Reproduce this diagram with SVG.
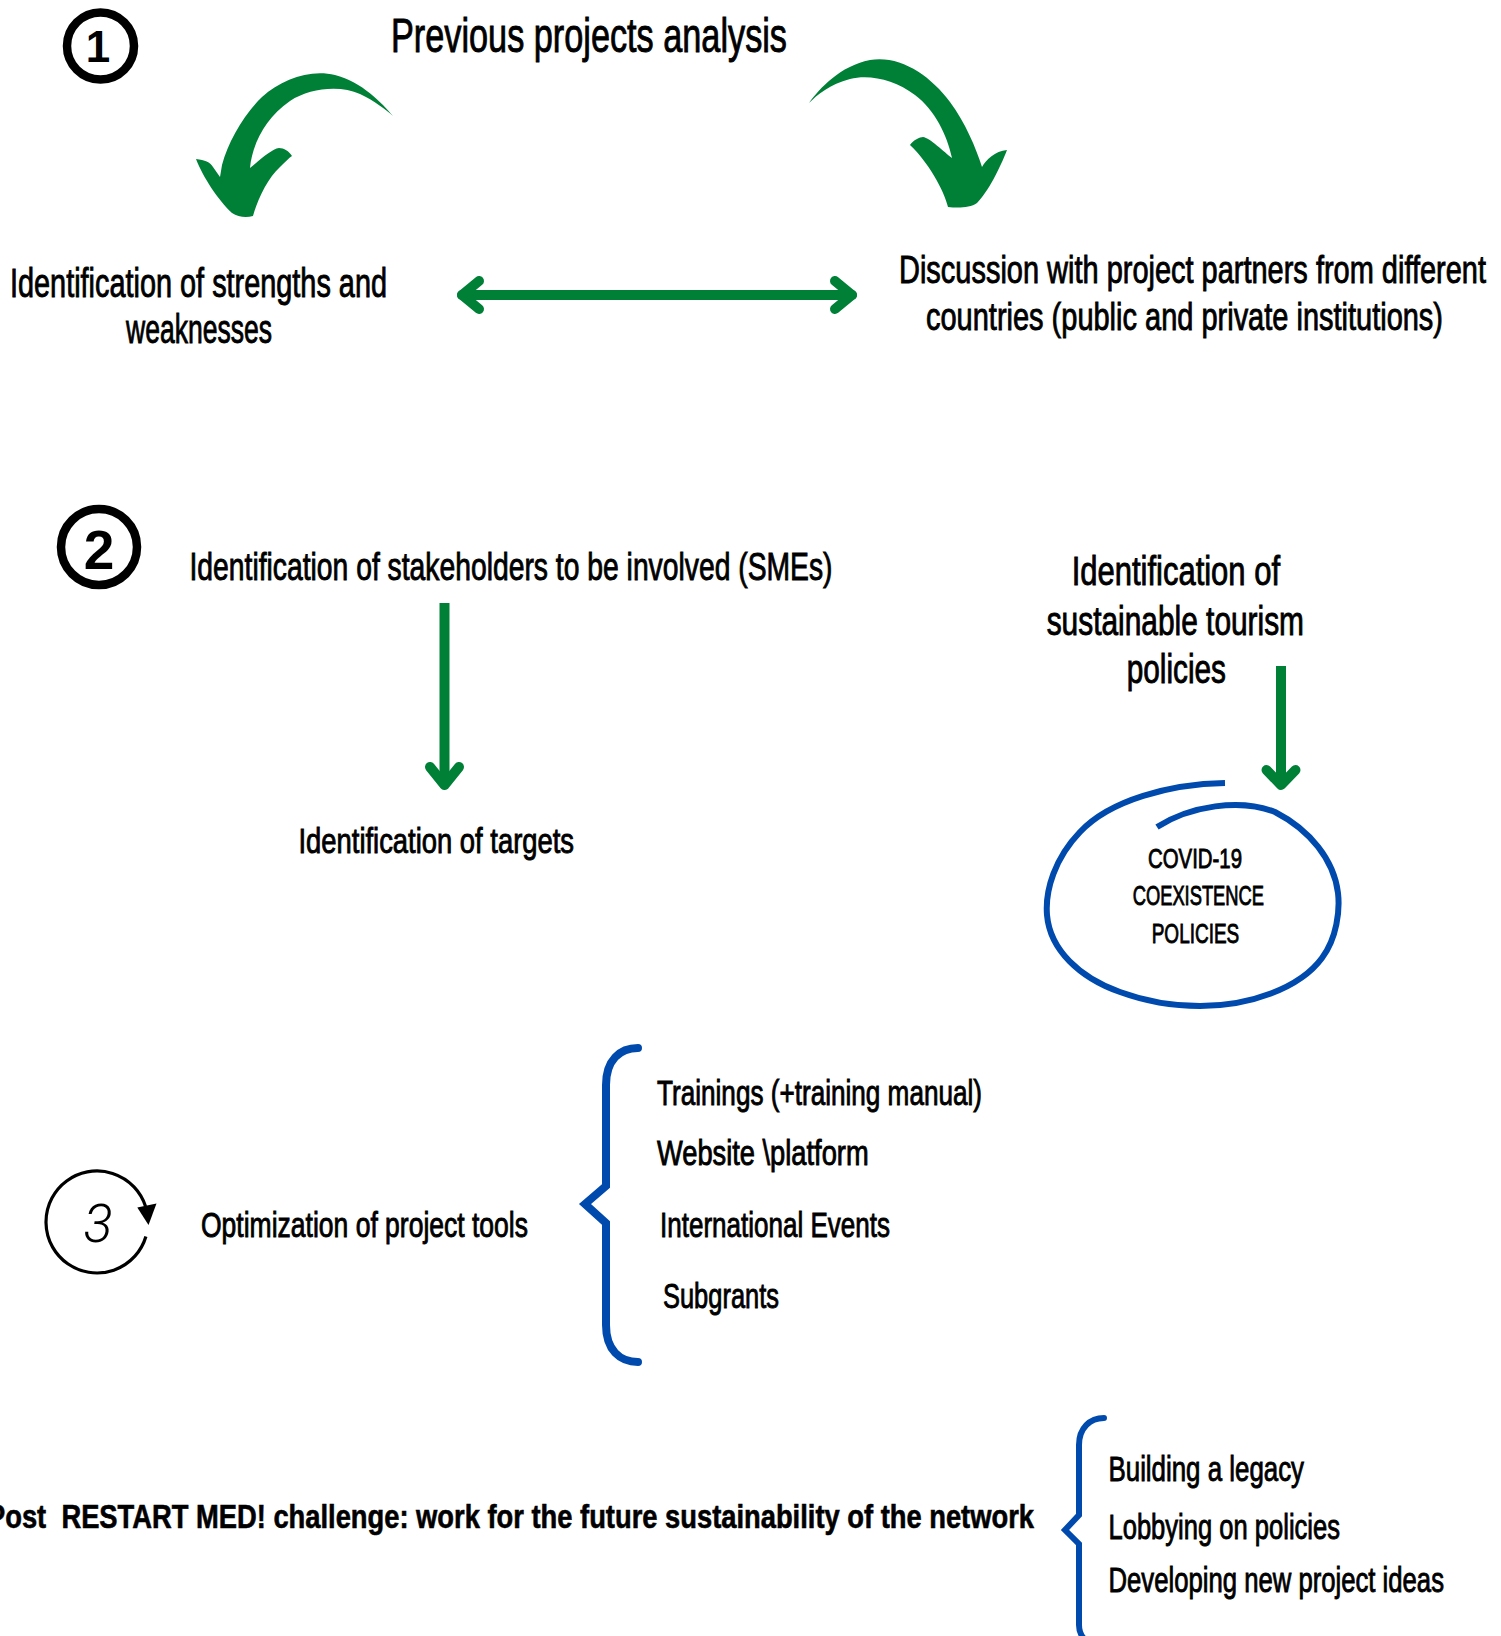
<svg xmlns="http://www.w3.org/2000/svg" width="1501" height="1636" viewBox="0 0 1501 1636">
<defs>
<style>
.t{font-family:"Liberation Sans Narrow","Liberation Sans",Arial,sans-serif;fill:#000;stroke:#000;stroke-width:0.9}
.bold{font-weight:bold;stroke-width:0.6}
.num{font-family:"Liberation Sans",Arial,sans-serif;font-weight:bold;fill:#000;text-anchor:middle}
.ring{fill:none;stroke:#000;stroke-width:8.5}
.gs{fill:none;stroke:#008037;stroke-width:10;stroke-linecap:round;stroke-linejoin:round}
.gl{fill:none;stroke:#008037;stroke-width:10;stroke-linecap:butt}
.gf{fill:#008037}
.blue{fill:none;stroke:#004aad}
</style>
</defs>
<rect width="1501" height="1636" fill="#fff"/>

<g id="step1-badge">
<circle class="ring" cx="100.5" cy="46" r="33.5"/>
<text class="num" x="98" y="62" font-size="44">1</text>
</g>

<g id="node-previous-projects">
<text class="t" x="391" y="52" font-size="48" textLength="396" lengthAdjust="spacingAndGlyphs">Previous projects analysis</text>
</g>

<g id="node-strengths">
<text class="t" x="10" y="297" font-size="40" textLength="377" lengthAdjust="spacingAndGlyphs">Identification of strengths and</text>
<text class="t" x="126" y="343" font-size="40" textLength="146" lengthAdjust="spacingAndGlyphs">weaknesses</text>
</g>

<g id="node-discussion">
<text class="t" x="899" y="283" font-size="39" textLength="587" lengthAdjust="spacingAndGlyphs">Discussion with project partners from different</text>
<text class="t" x="926" y="330" font-size="39" textLength="517" lengthAdjust="spacingAndGlyphs">countries (public and private institutions)</text>
</g>

<g id="step2-badge">
<circle class="ring" cx="99" cy="547" r="38"/>
<text class="num" x="99" y="569" font-size="55">2</text>
</g>

<g id="node-stakeholders">
<text class="t" x="189.5" y="580" font-size="39" textLength="643" lengthAdjust="spacingAndGlyphs">Identification of stakeholders to be involved (SMEs)</text>
</g>

<g id="node-targets">
<text class="t" x="298.5" y="853" font-size="35" textLength="275.5" lengthAdjust="spacingAndGlyphs">Identification of targets</text>
</g>

<g id="node-tourism-policies">
<text class="t" x="1071.7" y="585" font-size="40" textLength="208.3" lengthAdjust="spacingAndGlyphs">Identification of</text>
<text class="t" x="1046.7" y="635" font-size="40" textLength="257.3" lengthAdjust="spacingAndGlyphs">sustainable tourism</text>
<text class="t" x="1126.7" y="683" font-size="40" textLength="99.3" lengthAdjust="spacingAndGlyphs">policies</text>
</g>

<g id="node-covid">
<path class="blue" stroke-width="6" d="M1225,783 C1170,784 1110,800 1080,832 C1055,858 1045,890 1047,915 C1050,950 1080,978 1120,992 C1150,1003 1175,1006 1200,1006 C1250,1006 1300,988 1322,958 C1337,938 1340,910 1338,893 C1334,860 1310,830 1275,812 C1240,798 1190,806 1157,827"/>
<text class="t" x="1148" y="868" font-size="28" stroke-width="0.6" textLength="94" lengthAdjust="spacingAndGlyphs">COVID-19</text>
<text class="t" x="1132.7" y="905" font-size="28" stroke-width="0.6" textLength="131.3" lengthAdjust="spacingAndGlyphs">COEXISTENCE</text>
<text class="t" x="1151.7" y="943" font-size="28" stroke-width="0.6" textLength="87.6" lengthAdjust="spacingAndGlyphs">POLICIES</text>
</g>

<g id="step3-badge">
<path d="M145.9,1236.5 A51,51 0 1 1 145.5,1206.2" fill="none" stroke="#000" stroke-width="3.2"/>
<polygon points="137.3,1207.5 156.5,1203.5 148.5,1225" fill="#000"/>
<text x="98" y="1241.5" font-family="Roboto,'Liberation Sans',sans-serif" font-weight="300" font-style="italic" font-size="54" text-anchor="middle" fill="#000">3</text>
</g>

<g id="node-optimization">
<text class="t" x="201" y="1237" font-size="35" textLength="327" lengthAdjust="spacingAndGlyphs">Optimization of project tools</text>
</g>

<g id="brace-tools">
<path class="blue" stroke-width="8" stroke-linecap="round" stroke-linejoin="miter" d="M638,1048 C620,1048 606,1060 606,1085 L606,1186 L585,1204 L606,1223 L606,1325 C606,1350 620,1362 638,1362"/>
</g>

<g id="node-tools-list">
<text class="t" x="657" y="1105" font-size="35" textLength="325" lengthAdjust="spacingAndGlyphs">Trainings (+training manual)</text>
<text class="t" x="657" y="1165" font-size="35" textLength="211.6" lengthAdjust="spacingAndGlyphs">Website \platform</text>
<text class="t" x="660" y="1237" font-size="35" textLength="230" lengthAdjust="spacingAndGlyphs">International Events</text>
<text class="t" x="663" y="1308" font-size="35" textLength="116" lengthAdjust="spacingAndGlyphs">Subgrants</text>
</g>

<g id="node-post-restart">
<text class="t bold" x="-13" y="1528" font-size="34" xml:space="preserve" textLength="1047" lengthAdjust="spacingAndGlyphs">Post  RESTART MED! challenge: work for the future sustainability of the network</text>
</g>

<g id="brace-future">
<path class="blue" stroke-width="6" stroke-linecap="round" stroke-linejoin="miter" d="M1104,1418 C1090,1418 1079,1428 1079,1445 L1079,1515 L1065,1530 L1079,1544 L1079,1625 C1079,1635 1085,1642 1095,1645"/>
</g>

<g id="node-future-list">
<text class="t" x="1108.5" y="1480.5" font-size="35" textLength="195.5" lengthAdjust="spacingAndGlyphs">Building a legacy</text>
<text class="t" x="1108.5" y="1538.5" font-size="35" textLength="231.5" lengthAdjust="spacingAndGlyphs">Lobbying on policies</text>
<text class="t" x="1108.5" y="1592" font-size="35" textLength="335.5" lengthAdjust="spacingAndGlyphs">Developing new project ideas</text>
</g>

<g id="connectors">
<path class="gf" d="M393,116 C382,103 362,82 335,75 C310,69 282,79 262,97 C244,114 228,142 222,165 L220,177 L213,167 C210,162 205,160 196,159 C203,177 218,200 232,213 C238,217 246,218 253,216 C258,198 268,178 280,167 C285,162 289,158 292,156 C289,151 284,148 279,148 C272,149 262,158 250,168 C252,145 265,118 290,101 C310,88 340,85 360,94 C375,101 386,110 393,116 Z"/>
<path class="gf" d="M809,103 C820,88 840,66 870,60 C900,55 930,75 950,102 C965,122 976,148 982,167 C986,160 995,151 1007,150 C1000,168 988,192 977,203 C970,208 958,208 948,207 C944,190 928,162 910,145 C913,140 920,137 923,137 C930,138 944,152 952,158 C947,135 935,110 915,95 C895,80 870,74 850,79 C830,84 817,95 809,103 Z"/>
<line class="gs" x1="462" y1="295" x2="852" y2="295"/>
<polyline class="gs" points="479,281 462,295 479,309"/>
<polyline class="gs" points="835,281 852,295 835,309"/>
<line class="gl" x1="444.5" y1="603" x2="444.5" y2="783"/>
<polyline class="gs" points="430,767 444.5,785 459,767"/>
<line class="gl" x1="1281" y1="666" x2="1281" y2="783"/>
<polyline class="gs" points="1266.5,770 1281,785 1295.5,770"/>
</g>
</svg>
